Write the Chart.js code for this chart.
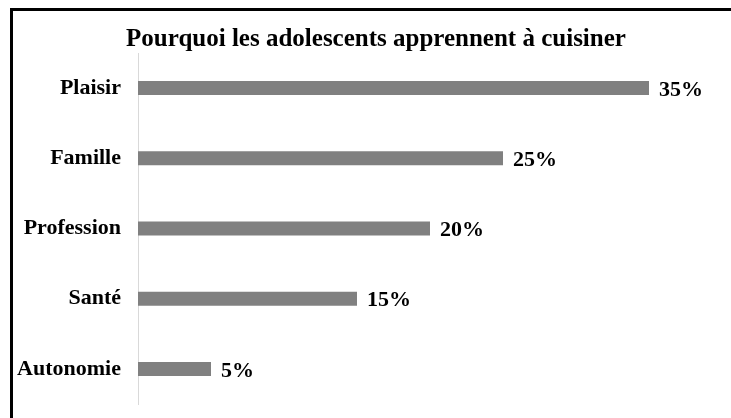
<!DOCTYPE html>
<html>
<head>
<meta charset="utf-8">
<script src="https://cdn.jsdelivr.net/npm/chart.js@4"></script>
<style>
  html, body { margin: 0; padding: 0; background: #fff; }
  #wrap { width: 731px; height: 418px; position: relative; }
</style>
</head>
<body>
<div id="wrap"><canvas id="c"></canvas></div>
<script>
const TITLE = "Pourquoi les adolescents apprennent à cuisiner";
const categories = ["Plaisir", "Famille", "Profession", "Santé", "Autonomie"];
const shares = [35, 25, 20, 15, 5];

const SERIF = "'Liberation Serif', 'Times New Roman', serif";

// black frame (only top and left edges visible) plus the title,
// which sits a little right of the canvas centre
const framePlugin = {
  id: "frame",
  beforeDraw(chart) {
    const ctx = chart.ctx;
    ctx.save();
    ctx.strokeStyle = "#000";
    ctx.lineWidth = 3;
    ctx.beginPath();
    ctx.moveTo(11.5, 418);
    ctx.lineTo(11.5, 9.5);
    ctx.lineTo(731, 9.5);
    ctx.stroke();

    ctx.font = "bold 25px " + SERIF;
    ctx.fillStyle = "#000";
    ctx.textAlign = "center";
    ctx.textBaseline = "middle";
    ctx.fillText(TITLE, 376, 40);
    ctx.restore();
  }
};

const valueLabels = {
  id: "valueLabels",
  afterDatasetsDraw(chart) {
    const ctx = chart.ctx;
    const meta = chart.getDatasetMeta(0);
    ctx.save();
    ctx.font = "bold 22px " + SERIF;
    ctx.fillStyle = "#000";
    ctx.textAlign = "left";
    ctx.textBaseline = "middle";
    meta.data.forEach((bar, i) => {
      ctx.fillText(shares[i] + "%", bar.x + 10, bar.y + 2);
    });
    ctx.restore();
  }
};

new Chart(document.getElementById("c"), {
  type: "bar",
  data: {
    labels: categories,
    datasets: [{
      data: shares,
      backgroundColor: "#808080",
      borderWidth: 0,
      categoryPercentage: 1,
      barPercentage: 0.2,
    }],
  },
  options: {
    indexAxis: "y",
    responsive: true,
    maintainAspectRatio: false,
    animation: false,
    layout: { padding: { left: 0, right: 9, top: 53, bottom: 14 } },
    plugins: {
      legend: { display: false },
      tooltip: { enabled: false },
      title: { display: false },
    },
    scales: {
      x: { display: false, min: 0, max: 40 },
      y: {
        grid: { display: false, drawTicks: false },
        border: { display: true, color: "#d9d9d9", width: 1 },
        ticks: {
          color: "#000",
          padding: 17,
          font: { family: SERIF, size: 22, weight: "bold" },
        },
        afterFit(scale) {
          scale.width = 138;
          scale.paddingTop = 0;
          scale.paddingBottom = 0;
        },
      },
    },
  },
  plugins: [framePlugin, valueLabels],
});
</script>
</body>
</html>
